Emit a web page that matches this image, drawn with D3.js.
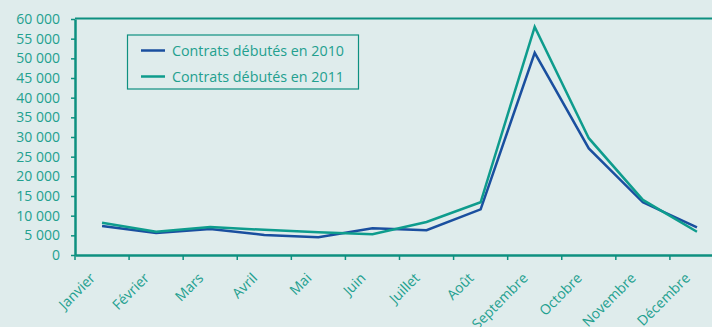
<!DOCTYPE html>
<html><head><meta charset="utf-8">
<script src="https://cdn.jsdelivr.net/npm/d3@7"></script>
<style>
html,body{margin:0;padding:0;background:#dfecec;}
svg{display:block;}
text{font-family:"Open Sans","Noto Sans",sans-serif;fill:#23a08f;}
</style></head>
<body>
<svg id="c" width="712" height="327"></svg>
<script>
const months = ["Janvier","Février","Mars","Avril","Mai","Juin","Juillet","Août","Septembre","Octobre","Novembre","Décembre"];
const series2010 = [7400,5600,6600,5100,4500,6800,6300,11600,51400,27100,13400,7000];
const series2011 = [8200,5900,7100,6400,5800,5300,8400,13400,58000,29700,14000,5900];
const yTicks = [0,5000,10000,15000,20000,25000,30000,35000,40000,45000,50000,55000,60000];
const seriesNames = ["Contrats débutés en 2010","Contrats débutés en 2011"];
const colors = ["#1a4f9f","#0e9c8d"];
const axisColor = "#0e9080";

(function(){
const svg = d3.select("#c");
const mL = 75, mR = 724, mT = 19, mB = 255;
const x = d3.scaleBand().domain(months).range([mL, mR]).padding(0);
const y = d3.scaleLinear().domain([0,60000]).range([mB, mT]);
const fmt = v => d3.format(",")(v).replace(/,/g, " ");

// top border
svg.append("line").attr("x1", mL).attr("x2", 712).attr("y1", mT - 0.5).attr("y2", mT - 0.5)
  .attr("stroke", axisColor).attr("stroke-width", 2);

// y axis
const ya = svg.append("g").attr("transform", `translate(${mL},0)`)
  .call(d3.axisLeft(y).tickValues(yTicks).tickFormat(fmt).tickSize(4).tickPadding(10).tickSizeOuter(0));
ya.select(".domain").attr("stroke", axisColor).attr("stroke-width", 2.5);
ya.selectAll(".tick line").attr("stroke", axisColor).attr("stroke-width", 1.5);
ya.selectAll(".tick text").attr("font-size", 14).attr("fill", "#23a08f").attr("dx", -1)
  .style("font-family", '"Open Sans","Noto Sans",sans-serif');

// x axis
const xa = svg.append("g").attr("transform", `translate(0,${mB})`)
  .call(d3.axisBottom(x).tickSize(0).tickSizeOuter(0).tickFormat(""));
xa.select(".domain").attr("stroke", axisColor).attr("stroke-width", 2.5);
svg.append("g").selectAll("line").data(months).join("line")
  .attr("x1", d => x(d)).attr("x2", d => x(d))
  .attr("y1", mB).attr("y2", mB + 5)
  .attr("stroke", axisColor).attr("stroke-width", 1.5);
svg.append("g").selectAll("text").data(months).join("text")
  .attr("transform", d => `translate(${x(d) + x.bandwidth()/2 - 6},${mB + 24}) rotate(-45)`)
  .attr("text-anchor", "end").attr("font-size", 14).text(d => d);

// lines
const line = d3.line().x((d,i) => x(months[i]) + x.bandwidth()/2).y(d => y(d));
[series2010, series2011].forEach((s, k) => {
  svg.append("path").datum(s).attr("d", line).attr("fill", "none")
    .attr("stroke", colors[k]).attr("stroke-width", 2.5).attr("stroke-linejoin", "miter");
});

// legend
const lg = svg.append("g");
lg.append("rect").attr("x", 127.5).attr("y", 35).attr("width", 231).attr("height", 54)
  .attr("fill", "none").attr("stroke", axisColor).attr("stroke-width", 1.2);
seriesNames.forEach((n, k) => {
  const yy = 50.5 + k * 26;
  lg.append("line").attr("x1", 141).attr("x2", 165).attr("y1", yy).attr("y2", yy)
    .attr("stroke", colors[k]).attr("stroke-width", 2.5);
  lg.append("text").attr("x", 172).attr("y", yy + 5).attr("font-size", 14.5)
    .attr("textLength", 172).attr("lengthAdjust", "spacingAndGlyphs").text(n);
});
})();
</script>
</body></html>
